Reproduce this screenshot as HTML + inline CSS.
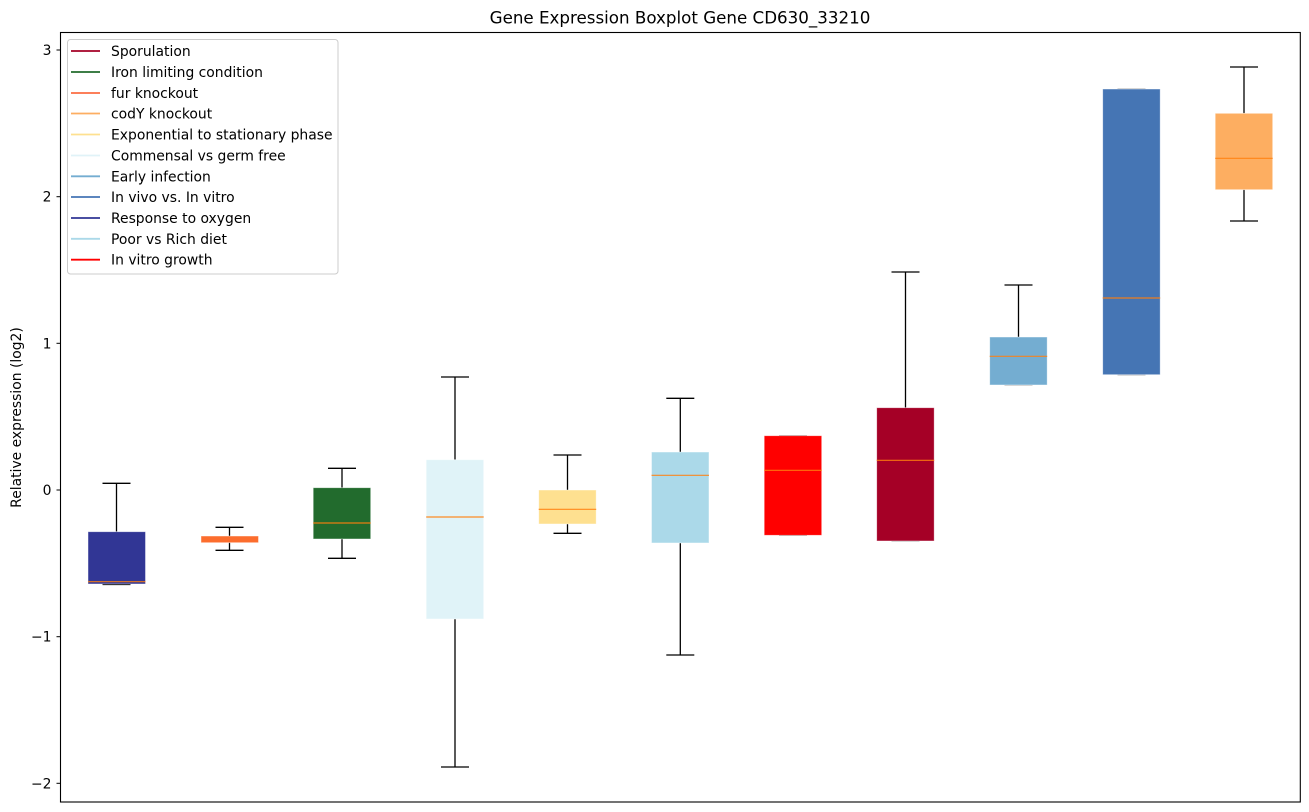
<!DOCTYPE html>
<html>
<head>
<meta charset="utf-8">
<style>
html,body{margin:0;padding:0;background:#fff;}
svg{display:block;}
text{font-family:"DejaVu Sans","Liberation Sans",sans-serif;fill:#000;}
</style>
</head>
<body>
<svg width="1309" height="812" viewBox="0 0 1309 812" xmlns="http://www.w3.org/2000/svg">
<rect x="0" y="0" width="1309" height="812" fill="#fff"/>
<!-- title -->
<text x="680" y="23.5" font-size="16.7" text-anchor="middle">Gene Expression Boxplot Gene CD630_33210</text>
<!-- y label -->
<text transform="translate(21,417.5) rotate(-90)" font-size="13.9" text-anchor="middle">Relative expression (log2)</text>

<!-- whiskers and caps -->
<g stroke="#000" stroke-width="1.3" fill="none">
<line x1="116.5" y1="483.3" x2="116.5" y2="531.7"/><line x1="102.5" y1="483.3" x2="130.5" y2="483.3"/><line x1="102.5" y1="584.5" x2="130.5" y2="584.5"/>
<line x1="229.5" y1="527.3" x2="229.5" y2="550.3"/><line x1="215.5" y1="527.3" x2="243.5" y2="527.3"/><line x1="215.5" y1="550.3" x2="243.5" y2="550.3"/>
<line x1="342" y1="468.3" x2="342" y2="558.3"/><line x1="328" y1="468.3" x2="356" y2="468.3"/><line x1="328" y1="558.3" x2="356" y2="558.3"/>
<line x1="455" y1="377" x2="455" y2="767"/><line x1="441" y1="377" x2="469" y2="377"/><line x1="441" y1="767" x2="469" y2="767"/>
<line x1="567.5" y1="455" x2="567.5" y2="533.3"/><line x1="553.5" y1="455" x2="581.5" y2="455"/><line x1="553.5" y1="533.3" x2="581.5" y2="533.3"/>
<line x1="680.3" y1="398.3" x2="680.3" y2="655"/><line x1="666.3" y1="398.3" x2="694.3" y2="398.3"/><line x1="666.3" y1="655" x2="694.3" y2="655"/>
<line x1="779" y1="435.7" x2="807" y2="435.7" stroke="#999"/><line x1="779" y1="535.3" x2="807" y2="535.3" stroke="#999"/>
<line x1="905.5" y1="272" x2="905.5" y2="407.7"/><line x1="891.5" y1="272" x2="919.5" y2="272"/><line x1="891.5" y1="541" x2="919.5" y2="541" stroke="#999"/>
<line x1="1018.5" y1="285" x2="1018.5" y2="337"/><line x1="1004.5" y1="285" x2="1032.5" y2="285"/><line x1="1004.5" y1="385" x2="1032.5" y2="385" stroke="#999"/>
<line x1="1117.5" y1="89" x2="1145.5" y2="89" stroke="#999"/><line x1="1117.5" y1="374.7" x2="1145.5" y2="374.7" stroke="#999"/>
<line x1="1244" y1="67" x2="1244" y2="113.3"/><line x1="1244" y1="189.7" x2="1244" y2="221"/><line x1="1230" y1="67" x2="1258" y2="67"/><line x1="1230" y1="221" x2="1258" y2="221"/>
</g>

<!-- boxes -->
<g stroke="rgba(255,255,255,0.55)" stroke-width="0.8">
<rect x="88" y="531.7" width="57.5" height="52.3" fill="#313695"/>
<rect x="201" y="536" width="57.5" height="6.7" fill="#fc6d2d"/>
<rect x="313.2" y="487.7" width="57.5" height="51.3" fill="#226b2d"/>
<rect x="426.2" y="459.7" width="57.5" height="159.3" fill="#e0f3f8"/>
<rect x="538.7" y="490" width="57.5" height="34" fill="#fee090"/>
<rect x="651.5" y="452" width="57.5" height="91" fill="#abd9e9"/>
<rect x="764.2" y="435.7" width="57.5" height="99.6" fill="#ff0000"/>
<rect x="876.7" y="407.7" width="57.5" height="133.3" fill="#a50026"/>
<rect x="989.7" y="337" width="57.5" height="48" fill="#74add1"/>
<rect x="1102.7" y="89" width="57.5" height="285.7" fill="#4575b4"/>
<rect x="1215.2" y="113.3" width="57.5" height="76.4" fill="#fdae61"/>
</g>

<!-- medians -->
<g stroke="#ff7f0e" stroke-width="1.2" stroke-opacity="0.9">
<line x1="88" y1="581.7" x2="145.5" y2="581.7"/>
<line x1="313.2" y1="523" x2="370.7" y2="523"/>
<line x1="426.2" y1="517" x2="483.7" y2="517"/>
<line x1="538.7" y1="509.3" x2="596.2" y2="509.3"/>
<line x1="651.5" y1="475.3" x2="709" y2="475.3"/>
<line x1="764.2" y1="470.3" x2="821.7" y2="470.3"/>
<line x1="876.7" y1="460.3" x2="934.2" y2="460.3"/>
<line x1="989.7" y1="356.3" x2="1047.2" y2="356.3"/>
<line x1="1102.7" y1="298" x2="1160.2" y2="298"/>
<line x1="1215.2" y1="158.3" x2="1272.7" y2="158.3"/>
</g>

<!-- axes frame -->
<rect x="60.5" y="32.5" width="1239.8" height="769.5" fill="none" stroke="#000" stroke-width="1.1"/>

<!-- y ticks -->
<g stroke="#000" stroke-width="1">
<line x1="56.5" y1="50" x2="60.5" y2="50"/>
<line x1="56.5" y1="196.7" x2="60.5" y2="196.7"/>
<line x1="56.5" y1="343.3" x2="60.5" y2="343.3"/>
<line x1="56.5" y1="490" x2="60.5" y2="490"/>
<line x1="56.5" y1="636.7" x2="60.5" y2="636.7"/>
<line x1="56.5" y1="783.3" x2="60.5" y2="783.3"/>
</g>
<g font-size="13.9" text-anchor="end">
<text x="51.5" y="55">3</text>
<text x="51.5" y="201.7">2</text>
<text x="51.5" y="348.3">1</text>
<text x="51.5" y="495">0</text>
<text x="51.5" y="641.7">−1</text>
<text x="51.5" y="788.3">−2</text>
</g>

<!-- legend -->
<rect x="67.5" y="39.5" width="270.5" height="234.5" rx="3" ry="3" fill="#fff" fill-opacity="0.8" stroke="#cccccc" stroke-width="1"/>
<g stroke-width="1.8">
<line x1="71" y1="51" x2="100" y2="51" stroke="#a50026"/>
<line x1="71" y1="72" x2="100" y2="72" stroke="#226b2d"/>
<line x1="71" y1="93" x2="100" y2="93" stroke="#fc6d43"/>
<line x1="71" y1="113.5" x2="100" y2="113.5" stroke="#fdae61"/>
<line x1="71" y1="134.5" x2="100" y2="134.5" stroke="#fee090"/>
<line x1="71" y1="155.5" x2="100" y2="155.5" stroke="#e0f3f8"/>
<line x1="71" y1="176.3" x2="100" y2="176.3" stroke="#74add1"/>
<line x1="71" y1="197" x2="100" y2="197" stroke="#4575b4"/>
<line x1="71" y1="218" x2="100" y2="218" stroke="#313695"/>
<line x1="71" y1="238.8" x2="100" y2="238.8" stroke="#abd9e9"/>
<line x1="71" y1="259.7" x2="100" y2="259.7" stroke="#ff0000"/>
</g>
<g font-size="13.9">
<text x="111" y="56">Sporulation</text>
<text x="111" y="77">Iron limiting condition</text>
<text x="111" y="98">fur knockout</text>
<text x="111" y="118.5">codY knockout</text>
<text x="111" y="139.5">Exponential to stationary phase</text>
<text x="111" y="160.5">Commensal vs germ free</text>
<text x="111" y="181.3">Early infection</text>
<text x="111" y="202">In vivo vs. In vitro</text>
<text x="111" y="223">Response to oxygen</text>
<text x="111" y="243.8">Poor vs Rich diet</text>
<text x="111" y="264.7">In vitro growth</text>
</g>
</svg>
</body>
</html>
